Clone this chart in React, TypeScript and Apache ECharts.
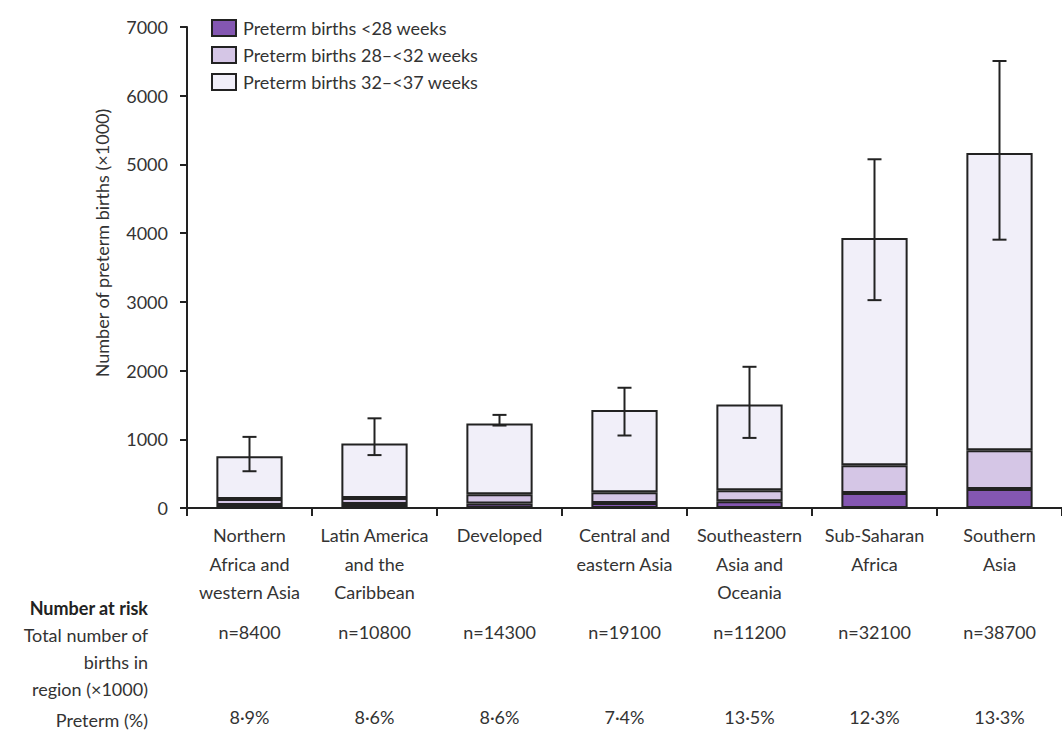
import React, { useEffect, useRef } from "react";
import * as echarts from "echarts";

const categories = [
  "Northern\nAfrica and\nwestern Asia",
  "Latin America\nand the\nCaribbean",
  "Developed",
  "Central and\neastern Asia",
  "Southeastern\nAsia and\nOceania",
  "Sub-Saharan\nAfrica",
  "Southern\nAsia",
];
const seriesNames = [
  "Preterm births <28 weeks",
  "Preterm births 28–<32 weeks",
  "Preterm births 32–<37 weeks",
];
const under28 = [42, 58, 65, 72, 100, 217, 275];
const w28to32 = [88, 87, 135, 159, 160, 405, 564];
const w32to37 = [622, 795, 1030, 1194, 1245, 3308, 4326];
const errLow = [535, 770, 1200, 1055, 1020, 3025, 3905];
const errHigh = [1035, 1305, 1355, 1750, 2055, 5075, 6505];
const totalBirths = ["n=8400", "n=10800", "n=14300", "n=19100", "n=11200", "n=32100", "n=38700"];
const pretermPct = ["8·9%", "8·6%", "8·6%", "7·4%", "13·5%", "12·3%", "13·3%"];
const yTicks = { min: 0, max: 7000, interval: 1000 };
const rowLabels = ["Total number of", "births in", "region (×1000)"];

const colors = ["#8457b2", "#d5c6e6", "#f1eff9"];
const FONT = "Lato";
const TXT = "#333";

export default function App() {
  const ref = useRef<HTMLDivElement>(null);
  useEffect(() => {
    const chart = echarts.init(ref.current!, null, { renderer: "svg" });
    const layers = [under28, w28to32, w32to37];
    const barSeries = layers.map((d, i) => ({
      name: seriesNames[i],
      type: "bar",
      stack: "total",
      barWidth: "53%",
      xAxisIndex: 0,
      yAxisIndex: 0,
      data: d,
      itemStyle: { color: colors[i], borderColor: "#222", borderWidth: 2 },
      emphasis: { disabled: true },
    }));
    const errData = categories.map((_, i) => [i, errLow[i], errHigh[i]]);
    const hiddenAxis = (data: string[], off: number) => ({
      type: "category",
      data,
      gridIndex: 0,
      position: "bottom",
      offset: off,
      axisLine: { show: false },
      axisTick: { show: false },
      axisLabel: {
        interval: 0,
        margin: 0,
        fontFamily: FONT,
        fontSize: 18,
        color: TXT,
        lineHeight: 28,
      },
    });
    chart.setOption({
      animation: false,
      textStyle: { fontFamily: FONT },
      grid: { left: 187, top: 27, width: 887, height: 484 },
      legend: {
        orient: "vertical",
        left: 206,
        top: 14,
        itemWidth: 24,
        itemHeight: 16,
        itemGap: 9,
        icon: "rect",
        selectedMode: false,
        data: seriesNames,
        textStyle: { fontFamily: FONT, fontSize: 18, color: TXT, padding: [0, 0, 0, 2] },
      },
      xAxis: [
        {
          type: "category",
          data: categories,
          axisLine: { lineStyle: { color: "#222", width: 2 } },
          axisTick: { show: true, length: 8, lineStyle: { color: "#222", width: 2 } },
          axisLabel: {
            interval: 0,
            margin: 13,
            fontFamily: FONT,
            fontSize: 18,
            color: TXT,
            lineHeight: 28.5,
          },
        },
        hiddenAxis(totalBirths, 110),
        hiddenAxis(pretermPct, 195),
      ],
      yAxis: {
        type: "value",
        min: yTicks.min,
        max: yTicks.max,
        interval: yTicks.interval,
        axisLine: { show: true, lineStyle: { color: "#222", width: 2 } },
        axisTick: { show: true, length: 7, lineStyle: { color: "#222", width: 2 } },
        splitLine: { show: false },
        axisLabel: {
          margin: 19,
          fontFamily: FONT,
          fontSize: 18,
          color: TXT,
          formatter: (v: number) => String(v),
        },
      },
      series: [
        ...barSeries,
        {
          type: "custom",
          xAxisIndex: 0,
          yAxisIndex: 0,
          z: 10,
          data: errData,
          encode: { x: 0, y: [1, 2] },
          renderItem: (params: any, api: any) => {
            const x = api.value(0);
            const lo = api.coord([x, api.value(1)]);
            const hi = api.coord([x, api.value(2)]);
            const cap = 7;
            const style = { stroke: "#222", lineWidth: 2 };
            return {
              type: "group",
              children: [
                { type: "line", shape: { x1: lo[0], y1: lo[1], x2: hi[0], y2: hi[1] }, style },
                { type: "line", shape: { x1: hi[0] - cap, y1: hi[1], x2: hi[0] + cap, y2: hi[1] }, style },
                { type: "line", shape: { x1: lo[0] - cap, y1: lo[1], x2: lo[0] + cap, y2: lo[1] }, style },
              ],
            };
          },
        },
      ],
      graphic: [
        {
          type: "text",
          x: 102,
          y: 243,
          rotation: Math.PI / 2,
          style: {
            text: "Number of preterm births (×1000)",
            fontFamily: FONT,
            fontSize: 18,
            fill: TXT,
            align: "center",
            verticalAlign: "middle",
          },
        },
        {
          type: "text",
          x: 148,
          y: 608,
          style: {
            text: "Number at risk",
            fontFamily: FONT,
            fontSize: 18,
            fontWeight: "bold",
            fill: "#222",
            align: "right",
            verticalAlign: "middle",
          },
        },
        ...rowLabels.map((t, i) => ({
          type: "text",
          x: 148,
          y: 635 + i * 27,
          style: { text: t, fontFamily: FONT, fontSize: 18, fill: TXT, align: "right", verticalAlign: "middle" },
        })),
        {
          type: "text",
          x: 148,
          y: 720,
          style: { text: "Preterm (%)", fontFamily: FONT, fontSize: 18, fill: TXT, align: "right", verticalAlign: "middle" },
        },
      ],
    });
    return () => chart.dispose();
  }, []);
  return (
    <div
      ref={ref}
      style={{ position: "absolute", left: 0, top: 0, width: 1062, height: 731, background: "#fff" }}
    />
  );
}
